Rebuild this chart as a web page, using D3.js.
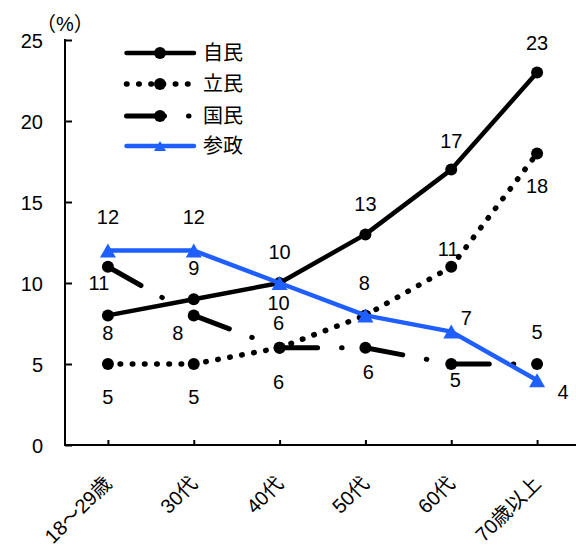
<!DOCTYPE html>
<html><head><meta charset="utf-8">
<script src="https://cdn.jsdelivr.net/npm/d3@7"></script>
<style>
html,body{margin:0;padding:0;background:#fff;}
svg{display:block;}
text{font-family:"Liberation Sans","Noto Sans CJK JP",Arial,sans-serif;fill:#000;}
</style></head>
<body>
<svg id="chart" width="576" height="546"></svg>
<script>
// ---- data ----
const categories = ["18～29歳","30代","40代","50代","60代","70歳以上"];
const jimin   = [8, 9, 10, 13, 17, 23];
const rikken  = [5, 5, 6, 8, 11, 18];
const kokumin = [11, 8, 6, 6, 5, 5];
const sansei  = [12, 12, 10, 8, 7, 4];
const seriesNames = ["自民","立民","国民","参政"];
const yTicks = [0, 5, 10, 15, 20, 25];
const yUnit = "（%）";

// ---- label placement (offsets from point, px) ----
const labelOffsets = {
  "自民": [[0,17],[0,-31],[0,-31],[0,-31],[0,-29],[0,-30]],
  "立民": [[0,33],[0,33],[-1,34],null,[-3,-18],[0,32]],
  "国民": [[-9,16],[-16,17],[-1,-25],[3,24],[4,16],[0,-32]],
  "参政": [[0,-34],[0,-34],[-1,20],[-1,-33],[15,-14],[26,12]]
};

const svg = d3.select("#chart");
const x = d3.scalePoint().domain(categories).range([65, 580]).padding(0.5);
const y = d3.scaleLinear().domain([0, 25]).range([445, 40]);

const styles = {
  "自民": {color:"#000", width:4.5, dash:null, marker:"circle"},
  "立民": {color:"#000", width:5.5, dash:"0.5,11.7", marker:"circle"},
  "国民": {color:"#000", width:5, dash:"38,24,0.5,100", marker:"circle"},
  "参政": {color:"#1F5FFF", width:4.5, dash:null, marker:"triangle"}
};
const seriesData = {"自民":jimin,"立民":rikken,"国民":kokumin,"参政":sansei};

// axes
const yAxis = d3.axisLeft(y).tickValues(yTicks).tickSize(-7).tickPadding(0).tickFormat(d3.format("d"));
const gy = svg.append("g").attr("transform","translate(65,0)").call(yAxis);
gy.select(".domain").attr("stroke","#000").attr("stroke-width",2).attr("d","M0,39V446");
gy.selectAll(".tick line").attr("stroke","#000").attr("stroke-width",2);
gy.selectAll(".tick text").attr("x",-22).attr("dy","0.38em").attr("font-size",20)
  .attr("font-family","Liberation Sans, Arial, sans-serif");

const xAxis = d3.axisBottom(x).tickSize(-5).tickFormat("");
const gx = svg.append("g").attr("transform","translate(0,445)").call(xAxis);
gx.select(".domain").attr("stroke","#000").attr("stroke-width",2).attr("d","M64,0H580");
gx.selectAll(".tick line").attr("stroke","#000").attr("stroke-width",2);

svg.append("g").selectAll("text").data(categories).join("text")
  .attr("transform", d => `translate(${x(d)},480) rotate(-45)`)
  .attr("text-anchor","end").attr("dy","0.35em").attr("font-size",20)
  .text(d => d);

svg.append("text").attr("x",36).attr("y",31).attr("font-size",20)
  .attr("font-family","Noto Sans CJK JP, sans-serif").text(yUnit);

// markers
function triPath(w, h){ return `M0,${-h/2}L${w/2},${h/2}L${-w/2},${h/2}Z`; }
function drawMarker(g, type, cx, cy, color, legend){
  if(type==="circle"){
    g.append("circle").attr("cx",cx).attr("cy",cy).attr("r",6).attr("fill",color);
  } else {
    const w = legend?12:16, h = legend?10:14;
    g.append("path").attr("d",triPath(w,h)).attr("transform",`translate(${cx},${cy})`).attr("fill",color);
  }
}

const line = d3.line().x(d=>d[0]).y(d=>d[1]);
seriesNames.forEach(name => {
  const st = styles[name];
  const vals = seriesData[name];
  const g = svg.append("g");
  const pts = vals.map((v,i)=>[x(categories[i]), y(v)]);
  for(let i=0;i<pts.length-1;i++){
    g.append("path").attr("d", line([pts[i],pts[i+1]]))
      .attr("fill","none").attr("stroke",st.color).attr("stroke-width",st.width)
      .attr("stroke-linecap","round").attr("stroke-linejoin","round")
      .attr("stroke-dasharray", st.dash);
  }
  pts.forEach(p => drawMarker(g, st.marker, p[0], p[1], st.color, false));
});

// data labels
seriesNames.forEach(name => {
  const vals = seriesData[name];
  vals.forEach((v,i) => {
    const off = labelOffsets[name][i];
    if(!off) return;
    svg.append("text")
      .attr("x", x(categories[i]) + off[0])
      .attr("y", y(v) + off[1])
      .attr("dy","0.36em").attr("text-anchor","middle").attr("font-size",20)
      .attr("font-family","Liberation Sans, Arial, sans-serif")
      .text(v);
  });
});

// legend
const legY = [53, 84, 116, 146];
seriesNames.forEach((name,i) => {
  const st = styles[name];
  const g = svg.append("g");
  g.append("path").attr("d", `M126.5,${legY[i]}H194`)
    .attr("fill","none").attr("stroke",st.color).attr("stroke-width",st.width)
    .attr("stroke-linecap","round").attr("stroke-dasharray", st.dash);
  drawMarker(g, st.marker, 160, legY[i], st.color, true);
  g.append("text").attr("x",203).attr("y",legY[i]).attr("dy","0.36em")
    .attr("font-size",20).attr("font-family","Noto Sans CJK JP, sans-serif").text(name);
});
</script>
</body></html>
